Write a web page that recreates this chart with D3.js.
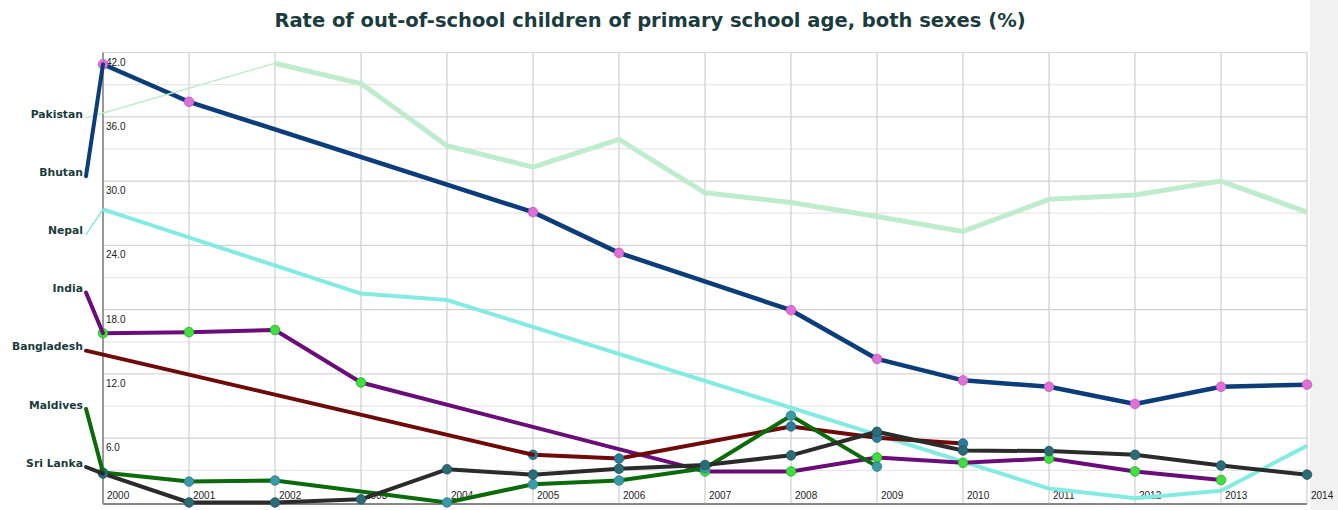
<!DOCTYPE html>
<html>
<head>
<meta charset="utf-8">
<script src="https://cdn.jsdelivr.net/npm/d3@7"></script>
<style>
  body { margin: 0; background: #fff; }
  svg { display: block; }
</style>
</head>
<body>
<svg id="line-chart"></svg>
<script>
// data (null = no value for that year)
const years = [2000, 2001, 2002, 2003, 2004, 2005, 2006, 2007, 2008, 2009, 2010, 2011, 2012, 2013, 2014];
const countries = ["Pakistan", "Bhutan", "Nepal", "India", "Bangladesh", "Maldives", "Sri Lanka"];

const pakistan = [null, null, 41.0, 39.1, 33.3, 31.3, 33.9, 28.9, 28.0, 26.7, 25.3, 28.3, 28.7, 30.0, 27.1];
const bhutan = [40.9, 37.4, null, null, null, 27.1, 23.3, null, 17.95, 13.4, 11.4, 10.8, 9.2, 10.8, 11.0];
const nepal = [27.35, null, null, 19.5, 18.9, null, null, null, null, null, null, 1.3, 0.4, 1.1, 5.3];
const india = [15.8, 15.9, 16.1, 11.2, null, null, null, 2.9, 2.9, 4.2, 3.7, 4.1, 2.9, 2.1, null];
const bangladesh = [null, null, null, null, null, 4.45, 4.1, null, 7.1, 6.05, 5.5, null, null, null, null];
const maldives = [2.8, 1.95, 2.05, null, 0, 1.7, 2.05, 3.2, 8.1, 3.35, null, null, null, null, null];
const sriLanka = [2.7, 0, 0, 0.3, 3.1, 2.6, 3.15, 3.5, 4.4, 6.6, 4.85, 4.8, 4.45, 3.45, 2.6];

const yTicks = [6, 12, 18, 24, 30, 36, 42];
const yGrid = [3, 6, 9, 12, 15, 18, 21, 24, 27, 30, 33, 36, 39, 42];

const seriesValues = [pakistan, bhutan, nepal, india, bangladesh, maldives, sriLanka];

// styles
const lineColors = ["#bfeccd", "#0b3d7a", "#84ebe3", "#6b0d78", "#6e0a0a", "#0b6b0b", "#2b2b2b"];
const lineWidths = [5, 4.5, 4, 4, 4, 4, 4];
const leaderWidths = [1.5, 4, 1.5, 4, 4, 4, 4];
const markerColors = [null, "#e070d8", null, "#3ee03e", "#2d7b9b", "#3a9aa8", "#2c6b78"];
const markerStrokes = [null, "#c058b8", null, "#2aa52a", "#24627c", "#2e7d88", "#22545e"];

const W = 1338, H = 510;
var margin = { top: 52.5, left: 103, right: 31, bottom: 6 };
var width = W - margin.left - margin.right;
var height = H - margin.top - margin.bottom;

var svg = d3.select("#line-chart").attr("width", W).attr("height", H);

// gray panel at right
svg.append("rect")
  .attr("x", margin.left + width + 3).attr("y", 0)
  .attr("width", W).attr("height", H)
  .attr("fill", "#f1f1f1");

// title
svg.append("text")
  .attr("x", 650).attr("y", 27)
  .attr("text-anchor", "middle")
  .style("font-family", "DejaVu Sans, Verdana, sans-serif")
  .style("font-weight", "bold")
  .style("font-size", "19.5px")
  .style("fill", "#1b3c3e")
  .text("Rate of out-of-school children of primary school age, both sexes (%)");

var g = svg.append("g")
  .attr("transform", "translate(" + margin.left + "," + margin.top + ")");

let x = d3.scaleLinear().domain([2000, 2014]).range([0, width]);
let y = d3.scaleLinear().domain([0, 42]).range([height - 1.5, 0]);

// plot background
g.append("rect").attr("width", width).attr("height", height).attr("fill", "#fff");

// horizontal grid
g.append("g").selectAll("line")
  .data(yGrid)
  .join("line")
  .attr("x1", 0).attr("x2", width)
  .attr("y1", d => y(d)).attr("y2", d => y(d))
  .attr("stroke", d => (d % 6 === 0 ? "#d4d4d4" : "#e6e6e6"))
  .attr("stroke-width", 1.2);

// vertical grid
g.append("g").selectAll("line")
  .data(years.slice(1))
  .join("line")
  .attr("x1", d => x(d)).attr("x2", d => x(d))
  .attr("y1", 0).attr("y2", height)
  .attr("stroke", "#cfcfcf")
  .attr("stroke-width", 1.2);

// axis lines
g.append("line").attr("x1", 0).attr("x2", 0).attr("y1", 0).attr("y2", height)
  .attr("stroke", "#777").attr("stroke-width", 1.5);
g.append("line").attr("x1", 0).attr("x2", width).attr("y1", height).attr("y2", height)
  .attr("stroke", "#888").attr("stroke-width", 2);

// tick labels
const tickFont = "Liberation Sans, Arial, sans-serif";
g.append("g").selectAll("text")
  .data(yTicks)
  .join("text")
  .attr("x", 3).attr("y", d => y(d) + 13)
  .style("font-family", tickFont).style("font-size", "10px").style("fill", "#222")
  .text(d => d3.format(".1f")(d));

g.append("g").selectAll("text")
  .data(years)
  .join("text")
  .attr("x", d => x(d) + 4).attr("y", height - 5)
  .style("font-family", tickFont).style("font-size", "10px").style("fill", "#222")
  .text(d => d);

// labels on the left
const labelY = d3.scalePoint().domain(countries).range([114, 463]);
svg.append("g").selectAll("text")
  .data(countries)
  .join("text")
  .attr("x", 83).attr("y", d => labelY(d))
  .attr("dy", "0.35em")
  .attr("text-anchor", "end")
  .style("font-family", "DejaVu Sans, Verdana, sans-serif")
  .style("font-weight", "bold")
  .style("font-size", "10.8px")
  .style("fill", "#1b3c3e")
  .text(d => d);

var line = d3.line()
  .x(d => x(d.year))
  .y(d => y(d.value));

const series = countries.map((name, i) => ({
  name: name,
  i: i,
  points: years.map((yr, j) => ({ year: yr, value: seriesValues[i][j] })).filter(p => p.value !== null)
}));

// leader lines from the label to the first value
svg.append("g").selectAll("line")
  .data(series)
  .join("line")
  .attr("x1", 86).attr("y1", d => labelY(d.name) + 4)
  .attr("x2", d => margin.left + x(d.points[0].year))
  .attr("y2", d => margin.top + y(d.points[0].value))
  .attr("stroke", d => lineColors[d.i])
  .attr("stroke-width", d => leaderWidths[d.i])
  .attr("stroke-linecap", "round");

// lines
g.append("g").selectAll("path")
  .data(series)
  .join("path")
  .attr("fill", "none")
  .attr("stroke", d => lineColors[d.i])
  .attr("stroke-width", d => lineWidths[d.i])
  .attr("stroke-linejoin", "round")
  .attr("d", d => line(d.points));

// markers
series.filter(s => markerColors[s.i]).forEach(s => {
  g.append("g").selectAll("circle")
    .data(s.points)
    .join("circle")
    .attr("cx", d => x(d.year))
    .attr("cy", d => y(d.value))
    .attr("r", 4.8)
    .attr("fill", markerColors[s.i])
    .attr("stroke", markerStrokes[s.i])
    .attr("stroke-width", 0.8);
});
</script>
</body>
</html>
